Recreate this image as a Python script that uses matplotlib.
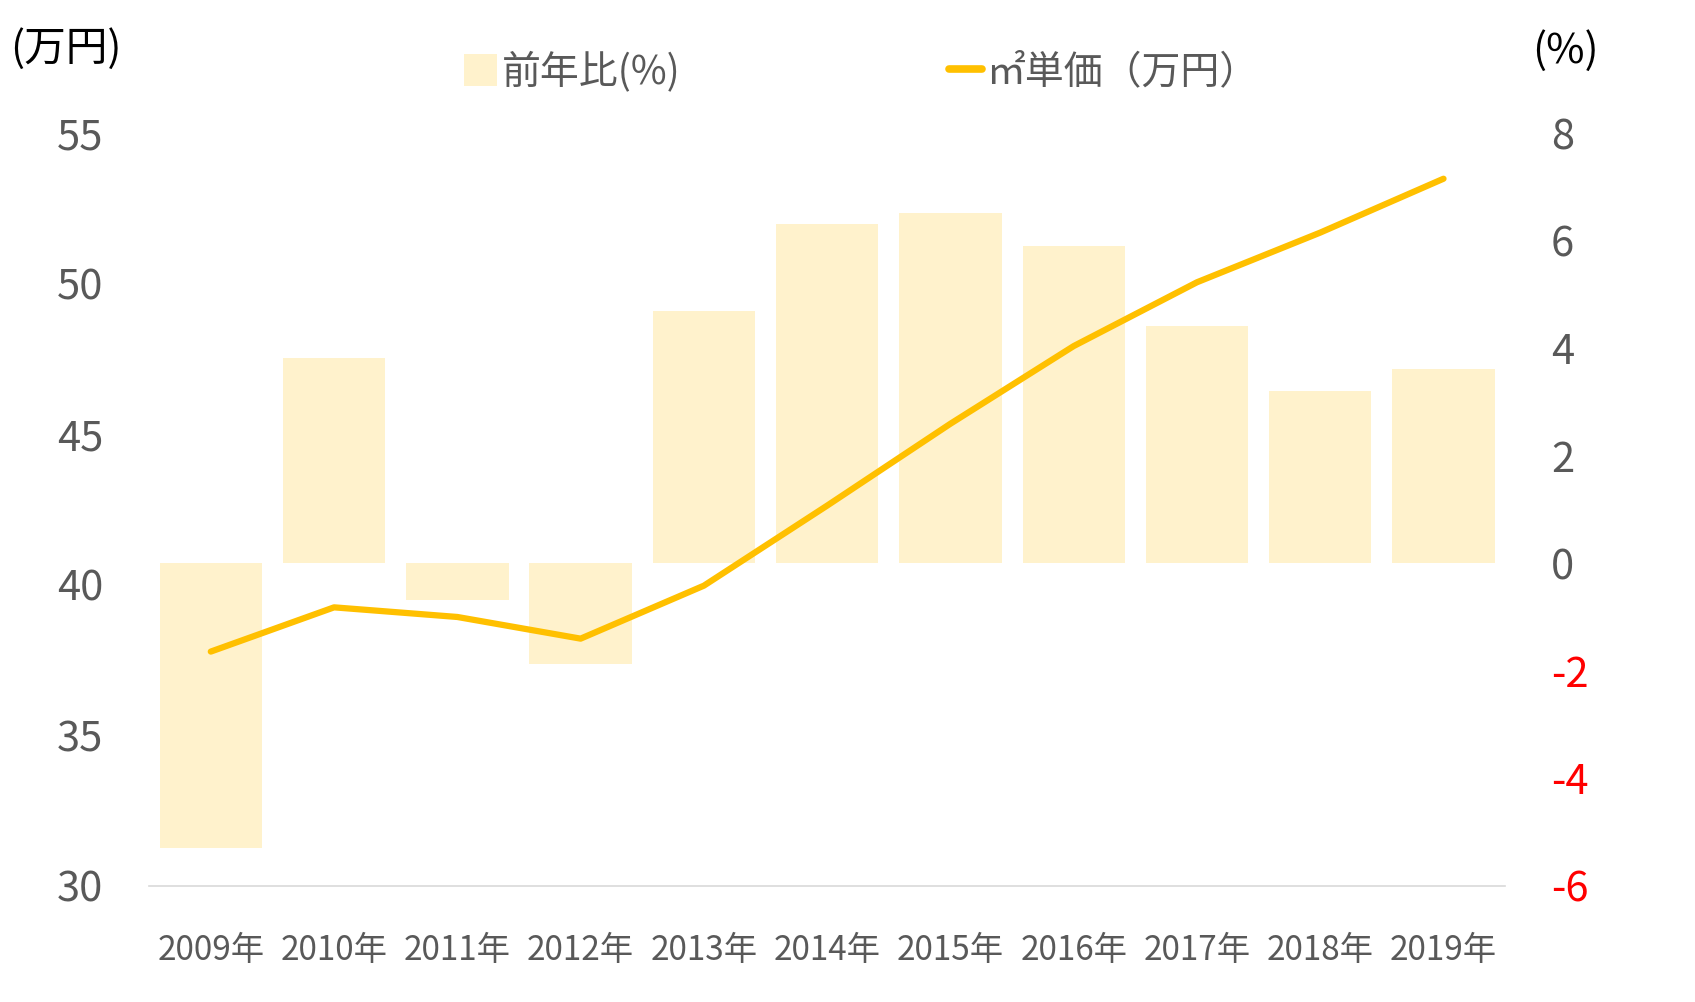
import matplotlib
matplotlib.use("Agg")
import matplotlib.pyplot as plt
from matplotlib.lines import Line2D
from matplotlib.patches import Patch

plt.rcParams['font.family'] = ['Noto Sans CJK JP', 'DejaVu Sans']
plt.rcParams['axes.unicode_minus'] = False

years = ["2009年", "2010年", "2011年", "2012年", "2013年", "2014年",
         "2015年", "2016年", "2017年", "2018年", "2019年"]
price = [37.78, 39.25, 38.93, 38.21, 39.97, 42.63, 45.35, 47.93, 50.05, 51.70, 53.49]
yoy = [-5.30, 3.82, -0.68, -1.87, 4.70, 6.31, 6.51, 5.90, 4.42, 3.21, 3.61]
left_ticks = [30, 35, 40, 45, 50, 55]
right_ticks = [-6, -4, -2, 0, 2, 4, 6, 8]

gray = "#595959"
bar_color = "#FFF2CC"
line_color = "#FFC000"

fig = plt.figure(figsize=(16.95, 10.02), dpi=100)
ax = fig.add_axes([0.088, 0.116, 0.800, 0.751])
ax2 = ax.twinx()

x = list(range(len(years)))
ax2.bar(x, yoy, width=0.83, color=bar_color, zorder=1)
ax.plot(x, price, color=line_color, lw=4.5, solid_capstyle='round', zorder=3)

ax.set_zorder(ax2.get_zorder() + 1)
ax.patch.set_visible(False)

ax.set_xlim(-0.5, len(years) - 0.5)
ax.set_ylim(30, 55)
ax2.set_ylim(-6, 8)
ax.set_yticks(left_ticks)
ax2.set_yticks(right_ticks)
ax.set_xticks(x)
ax.set_xticklabels(years)

for a in (ax, ax2):
    for s in a.spines.values():
        s.set_visible(False)
ax.spines['bottom'].set_visible(True)
ax.spines['bottom'].set_color("#D9D9D9")
ax.spines['bottom'].set_linewidth(1.2)

ax.tick_params(axis='y', length=0, pad=33, labelsize=30, labelcolor=gray)
ax.tick_params(axis='x', length=0, pad=34, labelsize=24, labelcolor=gray)
ax2.tick_params(axis='y', length=0, pad=33, labelsize=30, labelcolor=gray)
for t, v in zip(ax2.get_yticklabels(), right_ticks):
    if v < 0:
        t.set_color("#FF0000")

fig.text(66 / 1695, 1 - 49 / 1002, "(万円)", ha='center', va='center', fontsize=30, color='black')
fig.text(1565 / 1695, 1 - 51 / 1002, "(%)", ha='center', va='center', fontsize=30, color='black')

handles = [Patch(facecolor=bar_color, edgecolor='none'),
           Line2D([0], [0], color=line_color, lw=5.5, solid_capstyle='round')]
labels = ["前年比(%)", "㎡単価（万円）"]
leg = fig.legend(handles, labels, ncol=2, loc='center', bbox_to_anchor=(0.508, 1 - 72 / 1002),
                 frameon=False, fontsize=28, handlelength=0.85, handleheight=0.85,
                 handletextpad=0.12, columnspacing=6.9)
for t in leg.get_texts():
    t.set_color(gray)

fig.savefig("out.png", dpi=100)
